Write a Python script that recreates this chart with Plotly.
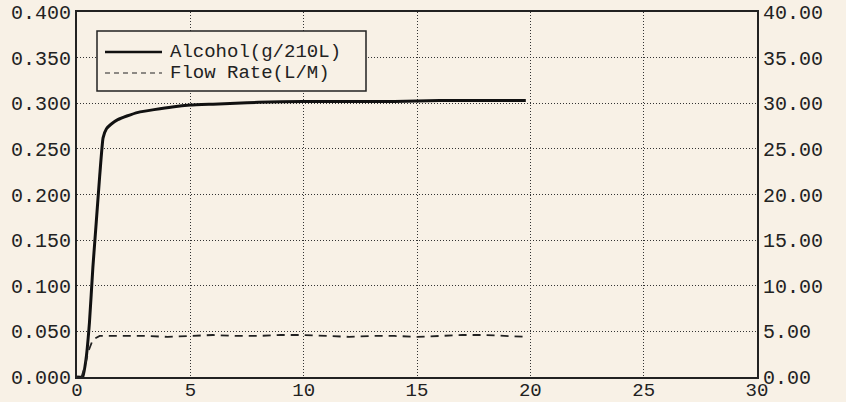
import plotly.graph_objects as go

# Data
alc_t = [0, 0.25, 0.4, 0.55, 0.7, 0.85, 1.0, 1.15, 1.3, 1.5, 1.8, 2.2, 2.7, 3.4, 4.2,
         5, 6, 7, 8, 10, 12, 14, 16, 18, 19.8]
alc_v = [0, 0, 0.02, 0.06, 0.12, 0.17, 0.22, 0.262, 0.272, 0.277, 0.282, 0.286, 0.290,
         0.293, 0.296, 0.298, 0.299, 0.300, 0.301, 0.302, 0.302, 0.302, 0.303, 0.303, 0.303]

flow_t = [0.2, 0.35, 0.5, 0.7, 1, 2, 3, 4, 5, 6, 7, 8, 9, 10, 11, 12, 13, 14, 15, 16,
          17, 18, 19, 19.8]
flow_v = [0, 1.2, 2.8, 4.1, 4.5, 4.5, 4.5, 4.4, 4.5, 4.6, 4.5, 4.5, 4.6, 4.6, 4.5, 4.4,
          4.5, 4.5, 4.4, 4.5, 4.6, 4.6, 4.5, 4.4]

left_ticks = [0.0, 0.05, 0.10, 0.15, 0.20, 0.25, 0.30, 0.35, 0.40]
right_ticks = [0, 5, 10, 15, 20, 25, 30, 35, 40]
x_ticks = [0, 5, 10, 15, 20, 25, 30]

legend_names = ["Alcohol(g/210L)", "Flow Rate(L/M)"]

BG = "#f8f1e6"
INK = "#222222"
FAMILY = "Liberation Mono, Courier New, monospace"
FONT = dict(family=FAMILY, size=20, color=INK)
LFONT = dict(family=FAMILY, size=19, color=INK)

fig = go.Figure()
fig.add_trace(go.Scatter(x=alc_t, y=alc_v, mode="lines", name=legend_names[0],
                         line=dict(color="#111111", width=3, shape="spline", smoothing=0.4),
                         showlegend=False))
fig.add_trace(go.Scatter(x=flow_t, y=flow_v, mode="lines", name=legend_names[1], yaxis="y2",
                         line=dict(color="#222222", width=1.8, dash="8px,6px"),
                         showlegend=False))

W, H = 846, 402
L, R, T, B = 77, 89, 12, 25
pw, ph = W - L - R, H - T - B


def px(x):  # page pixel -> paper
    return (x - L) / pw


def py(y):
    return (H - B - y) / ph


# manual legend
fig.add_shape(type="rect", xref="paper", yref="paper", x0=px(97), x1=px(366), y0=py(91), y1=py(31),
              line=dict(color=INK, width=1.5), fillcolor=BG, layer="above")
fig.add_shape(type="line", xref="paper", yref="paper", x0=px(105), x1=px(162), y0=py(52), y1=py(52),
              line=dict(color="#111111", width=2.5), layer="above")
fig.add_shape(type="line", xref="paper", yref="paper", x0=px(105), x1=px(162), y0=py(73), y1=py(73),
              line=dict(color="#222222", width=1.2, dash="5px,4px"), layer="above")
fig.add_annotation(xref="paper", yref="paper", x=px(169), y=py(52), text=legend_names[0],
                   showarrow=False, xanchor="left", yanchor="middle", font=LFONT,
                   borderpad=0)
fig.add_annotation(xref="paper", yref="paper", x=px(169), y=py(73), text=legend_names[1],
                   showarrow=False, xanchor="left", yanchor="middle", font=LFONT,
                   borderpad=0)

grid = dict(showgrid=True, gridcolor="#333333", gridwidth=1, griddash="1px,2px")

fig.update_layout(
    width=W, height=H,
    margin=dict(l=L, r=R, t=T, b=B, autoexpand=False),
    paper_bgcolor=BG, plot_bgcolor=BG,
    font=FONT,
    showlegend=False,
    xaxis=dict(range=[0, 30], tickvals=x_ticks, ticktext=[str(v) for v in x_ticks],
               showline=True, linecolor=INK, linewidth=2, mirror=True, zeroline=False,
               ticks="", automargin=False, ticklabelstandoff=-6,
               tickfont=dict(family=FAMILY, size=19, color=INK),
               ticklabeloverflow="allow", **grid),
    yaxis=dict(range=[0, 0.4], tickvals=left_ticks, ticktext=[f"{v:.3f}" for v in left_ticks],
               showline=True, linecolor=INK, linewidth=2, mirror=True, zeroline=False,
               ticks="", automargin=False, ticklabelstandoff=0,
               ticklabeloverflow="allow", **grid),
    yaxis2=dict(range=[0, 40], tickvals=right_ticks, ticktext=[f"{v:.2f}" for v in right_ticks],
                overlaying="y", side="right", showgrid=False, zeroline=False, ticks="",
                automargin=False, ticklabelstandoff=5, ticklabeloverflow="allow"),
)

fig.write_html("out.html", config={"displayModeBar": False},
               post_script="document.body.style.margin='0';document.body.style.overflow='hidden';")
